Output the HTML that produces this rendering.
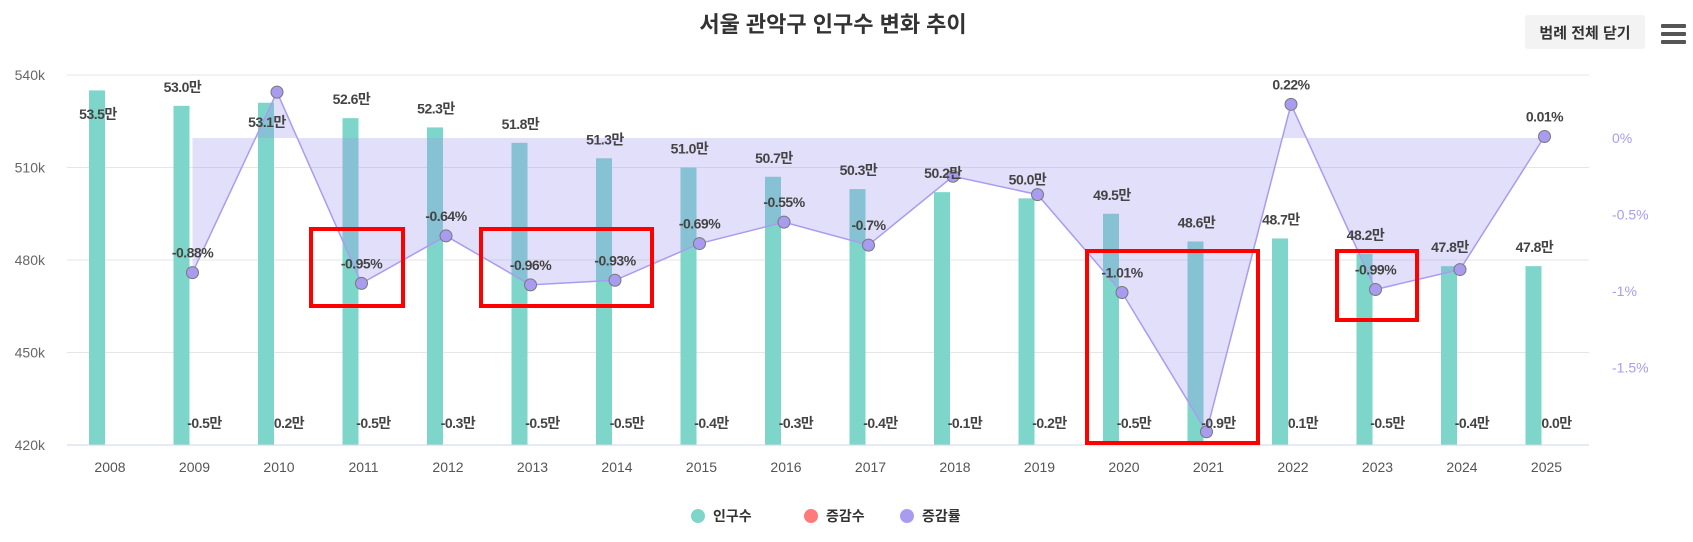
<!DOCTYPE html>
<html><head><meta charset="utf-8"><style>
html,body{margin:0;padding:0;background:#fff;}
svg text{font-family:"Liberation Sans","Noto Sans CJK KR",sans-serif;}
</style></head><body>
<svg width="1693" height="537" xmlns="http://www.w3.org/2000/svg" id="c"></svg>
<script>
const s=document.getElementById('c');let h='';
h+='<text x="833" y="32" text-anchor="middle" font-size="22" font-weight="bold" fill="#333">서울 관악구 인구수 변화 추이</text>';
h+='<rect x="1525" y="15" width="120" height="34" rx="3" fill="#f3f3f3"/><text x="1585" y="38" text-anchor="middle" font-size="15" font-weight="bold" fill="#333">범례 전체 닫기</text>';
for(let i=0;i<3;i++)h+='<rect x="1661" y="'+(24+i*8)+'" width="25" height="4" rx="1" fill="#555"/>';
const X0=67,X1=1589;
const yL=v=>445-(v-42)/3*92.5;
[54,51,48,45].forEach((v,i)=>{const y=yL(v);h+='<line x1="'+X0+'" x2="'+X1+'" y1="'+y+'" y2="'+y+'" stroke="#e6e6e6"/>';h+='<text x="45" y="'+(y+5)+'" text-anchor="end" font-size="14" fill="#666">'+(v*10)+'k</text>';});
h+='<text x="45" y="450" text-anchor="end" font-size="14" fill="#666">420k</text>';
const yR=p=>138-p*153;
[[0,'0%'],[-0.5,'-0.5%'],[-1,'-1%'],[-1.5,'-1.5%']].forEach(a=>{h+='<text x="1612" y="'+(yR(a[0])+5)+'" font-size="14" fill="#a99cf0">'+a[1]+'</text>';});
const yrs=[];for(let y=2008;y<=2025;y++)yrs.push(y);
const cx=i=>110+i*84.5;
const pop=['53.5','53.0','53.1','52.6','52.3','51.8','51.3','51.0','50.7','50.3','50.2','50.0','49.5','48.6','48.7','48.2','47.8','47.8'];
const chg=[null,'-0.5만','0.2만','-0.5만','-0.3만','-0.5만','-0.5만','-0.4만','-0.3만','-0.4만','-0.1만','-0.2만','-0.5만','-0.9만','0.1만','-0.5만','-0.4만','0.0만'];
const pct=[null,-0.88,0.30,-0.95,-0.64,-0.96,-0.93,-0.69,-0.55,-0.7,-0.25,-0.37,-1.01,-1.92,0.22,-0.99,-0.86,0.01];
const pl=[null,'-0.88%',null,'-0.95%','-0.64%','-0.96%','-0.93%','-0.69%','-0.55%','-0.7%',null,null,'-1.01%',null,'0.22%','-0.99%',null,'0.01%'];
yrs.forEach((y,i)=>{const c=cx(i),t=yL(+pop[i]);h+='<rect x="'+(c-21)+'" y="'+t+'" width="16" height="'+(445-t)+'" fill="#7dd6c9"/>';});
let pts=[];for(let i=1;i<18;i++)pts.push([cx(i)-2,yR(pct[i])]);
let d='M'+pts[0][0]+','+yR(0)+' '+pts.map(p=>'L'+p[0]+','+p[1]).join(' ')+' L'+pts[pts.length-1][0]+','+yR(0)+'Z';
h+='<path d="'+d+'" fill="rgba(160,148,240,0.3)"/>';
h+='<polyline points="'+pts.map(p=>p.join(',')).join(' ')+'" fill="none" stroke="#a99cf0" stroke-width="1.5"/>';
h+='<line x1="'+X0+'" x2="'+X1+'" y1="445" y2="445" stroke="#ccd6eb"/>';
pts.forEach(p=>{h+='<circle cx="'+p[0]+'" cy="'+p[1]+'" r="6" fill="#a99cf0" stroke="#777" stroke-width="1"/>';});
yrs.forEach((y,i)=>{const c=cx(i);
 h+='<text x="'+c+'" y="472" text-anchor="middle" font-size="14" fill="#555">'+y+'</text>';
 let ly=yL(+pop[i])-14; if(i==0)ly=119; if(i==2)ly=127;
 h+='<text x="'+(c-12)+'" y="'+ly+'" text-anchor="middle" font-size="14" font-weight="bold" fill="#444" letter-spacing="-0.5">'+pop[i]+'만</text>';
 if(chg[i])h+='<text x="'+(c+10)+'" y="428" text-anchor="middle" font-size="14" font-weight="bold" fill="#444" letter-spacing="-0.5">'+chg[i]+'</text>';
 if(pl[i]){let py=yR(pct[i])-15; h+='<text x="'+(c-2)+'" y="'+py+'" text-anchor="middle" font-size="14" font-weight="bold" fill="#444" letter-spacing="-0.5">'+pl[i]+'</text>';}
});
[[311,229,92,77],[481,229,171,77],[1087,251,171,192],[1337,251,80,69]].forEach(r=>{h+='<rect x="'+r[0]+'" y="'+r[1]+'" width="'+r[2]+'" height="'+r[3]+'" fill="none" stroke="#f00" stroke-width="4"/>';});
[[698,'#7dd6c9','인구수'],[811,'#ff7b7b','증감수'],[907,'#a99cf0','증감률']].forEach(l=>{h+='<circle cx="'+l[0]+'" cy="516" r="7" fill="'+l[1]+'"/><text x="'+(l[0]+15)+'" y="521" font-size="14" font-weight="bold" fill="#333">'+l[2]+'</text>';});
s.innerHTML=h;
</script>
</body></html>
